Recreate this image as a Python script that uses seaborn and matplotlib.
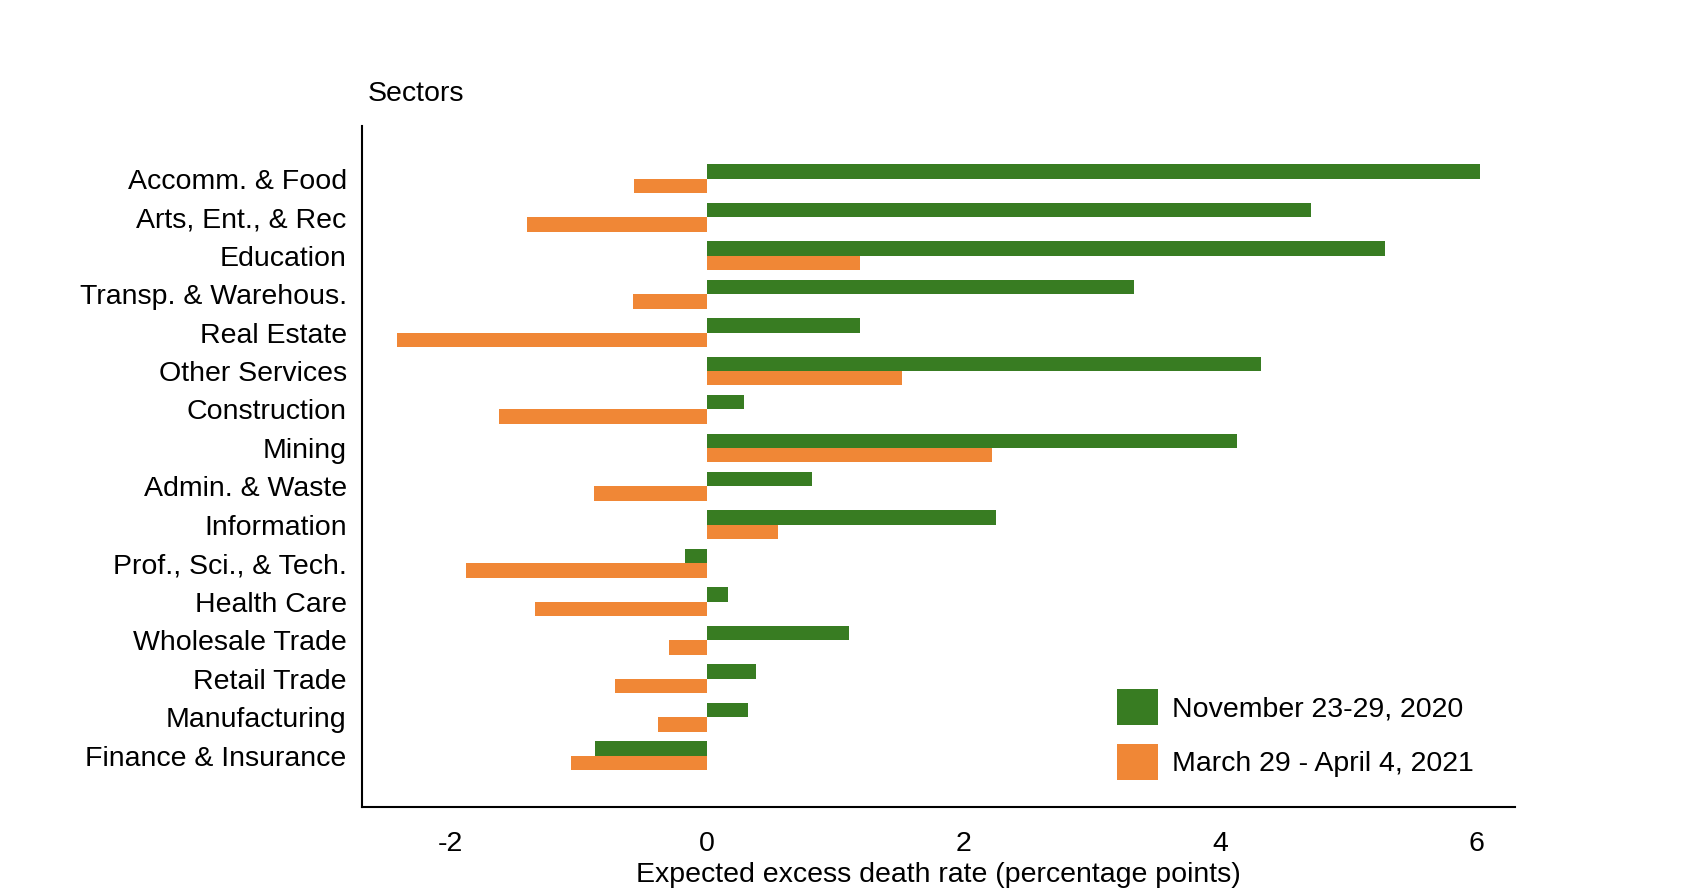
import matplotlib
matplotlib.use("Agg")
import matplotlib.pyplot as plt
import seaborn as sns
import pandas as pd

sectors = ["Accomm. & Food", "Arts, Ent., & Rec", "Education", "Transp. & Warehous.",
           "Real Estate", "Other Services", "Construction", "Mining", "Admin. & Waste",
           "Information", "Prof., Sci., & Tech.", "Health Care", "Wholesale Trade",
           "Retail Trade", "Manufacturing", "Finance & Insurance"]
nov_2020 = [6.03, 4.71, 5.29, 3.33, 1.19, 4.32, 0.285, 4.13, 0.82, 2.25, -0.175, 0.16,
            1.11, 0.38, 0.32, -0.87]
mar_2021 = [-0.57, -1.40, 1.19, -0.58, -2.42, 1.52, -1.62, 2.22, -0.88, 0.55, -1.88,
            -1.34, -0.30, -0.72, -0.38, -1.06]
periods = ["November 23-29, 2020", "March 29 - April 4, 2021"]
colors = ["#387C22", "#F08736"]
xticks = [-2, 0, 2, 4, 6]

df = pd.DataFrame({
    "sector": sectors * 2,
    "value": nov_2020 + mar_2021,
    "period": [periods[0]] * len(sectors) + [periods[1]] * len(sectors),
})

sns.set_style("white")
plt.rcParams["font.family"] = ["Liberation Sans", "DejaVu Sans"]
plt.rcParams["axes.unicode_minus"] = False
plt.rcParams["text.color"] = "black"
plt.rcParams["axes.labelcolor"] = "black"
plt.rcParams["xtick.color"] = "black"
plt.rcParams["ytick.color"] = "black"

FS = 20.5

fig = plt.figure(figsize=(16.98, 8.96), dpi=100)
ax = fig.add_axes([362 / 1698, 1 - 807 / 896, (1515 - 362) / 1698, (807 - 126) / 896])

sns.barplot(data=df, x="value", y="sector", hue="period", orient="h",
            palette=colors, hue_order=periods, order=sectors, width=0.75,
            saturation=1, linewidth=0, ax=ax, errorbar=None)

ax.set_xlim(-2.69, 6.30)
ax.set_ylim(16.337, -1.371)
ax.set_xticks(xticks)
ax.set_xticklabels([str(t) for t in xticks])
ax.set_ylabel("")
ax.set_xlabel("Expected excess death rate (percentage points)", fontsize=FS, labelpad=4)

for s in ["top", "right"]:
    ax.spines[s].set_visible(False)
for s in ["left", "bottom"]:
    ax.spines[s].set_color("black")
    ax.spines[s].set_linewidth(1.5)

ax.tick_params(axis="x", direction="in", length=9.5, width=1.2, color="black",
               labelsize=FS, pad=17)
ax.tick_params(axis="y", length=0, labelsize=FS, pad=11)

handles, labels = ax.get_legend_handles_labels()
ax.legend(handles, labels, loc="upper left",
          bbox_to_anchor=(1117 / 1698, 1 - 689 / 896), bbox_transform=fig.transFigure,
          frameon=False, fontsize=FS, handlelength=1.44, handleheight=1.566,
          labelspacing=0.67, handletextpad=0.49, borderpad=0, borderaxespad=0)

fig.text(368 / 1698, 1 - 101 / 896, "Sectors", fontsize=FS, ha="left", va="baseline")

fig.savefig("out.png", dpi=100)
